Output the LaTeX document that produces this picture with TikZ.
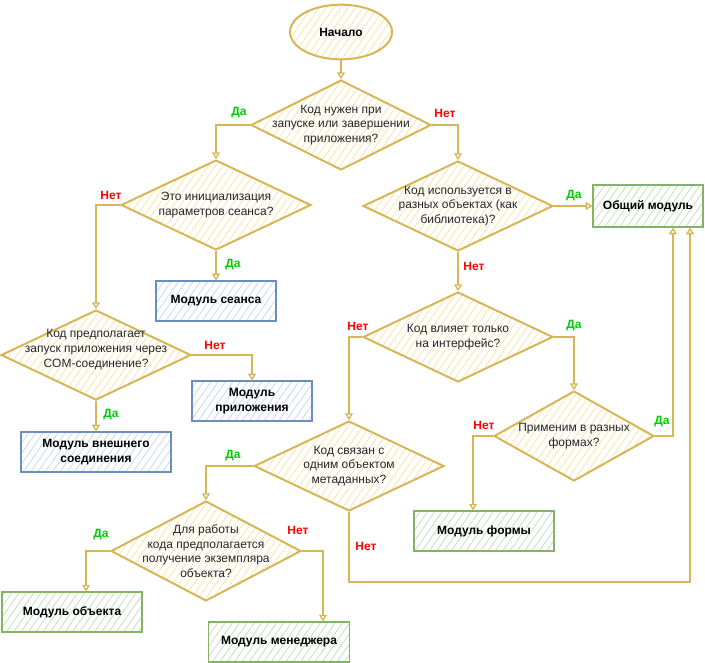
\documentclass[tikz,border=0pt]{standalone}
\usepackage{fontspec}
\setmainfont{Liberation Sans}
\usetikzlibrary{shapes.geometric}
\usetikzlibrary{arrows.meta}
\usetikzlibrary{patterns.meta}
\definecolor{dgold}{HTML}{D6B656}
\definecolor{hgold}{HTML}{F7E4AA}
\definecolor{dblue}{HTML}{6C8EBF}
\definecolor{hblue}{HTML}{C6D8F0}
\definecolor{dgreen}{HTML}{82B366}
\definecolor{hgreen}{HTML}{C4DEC2}
\definecolor{yescol}{HTML}{00CC00}
\definecolor{nocol}{HTML}{FF0000}

\begin{document}
\begin{tikzpicture}[x=0.75pt, y=-0.75pt, font=\fontsize{9}{11}\selectfont]
		\tikzstyle{hatch} = [pattern={Lines[angle=55,distance=4.5pt,line width=0.6pt]}]
		\tikzstyle{decision} = [draw=dgold, line width=1.5pt, diamond, inner sep=0pt, minimum width=142.5pt, minimum height=67.5pt, hatch, pattern color=hgold]
		\tikzstyle{startstop} = [draw=dgold, line width=1.5pt, ellipse, minimum width=76.5pt, minimum height=41pt, hatch, pattern color=hgold, font=\fontsize{9}{11}\selectfont\bfseries]
		\tikzstyle{dtext} = [align=center, text=black!85]
		\tikzstyle{block} = [draw, line width=0.9pt, rectangle, minimum width=90pt, minimum height=30pt, align=center, hatch, font=\fontsize{9}{11}\selectfont\bfseries]
		\tikzstyle{bluebox} = [block, draw=dblue, pattern color=hblue]
		\tikzstyle{greenbox} = [block, draw=dgreen, pattern color=hgreen]
		\tikzstyle{arr} = [-{Triangle[open,length=5pt,width=6pt]}, draw=dgold, line width=1pt]
		\tikzstyle{yeslbl} = [text=yescol, font=\fontsize{9}{11}\selectfont\bfseries]
		\tikzstyle{nolbl} = [text=nocol, font=\fontsize{9}{11}\selectfont\bfseries]
		\useasboundingbox (0,0) rectangle (705,662);

		\node [startstop] (start) at (341,32) {Начало};
		\node [decision, minimum width=135pt] (d1) at (341,125) {};
		\node [dtext] (t1) at (d1) {Код нужен при\\запуске или завершении\\приложения?};
		\node [decision] (d2) at (216,205) {};
		\node [dtext] (t2) at (d2) {Это инициализация\\параметров сеанса?};
		\node [decision] (d3) at (458,206) {};
		\node [dtext] (t3) at (d3) {Код используется в\\разных объектах (как\\библиотека)?};
		\node [decision] (d4) at (96,355) {};
		\node [dtext] (t4) at ([yshift=4pt]d4.center) {Код предполагает\\запуск приложения через\\COM-соединение?};
		\node [decision] (d5) at (458,337) {};
		\node [dtext] (t5) at (d5) {Код влияет только\\на интерфейс?};
		\node [decision] (d6) at (349,466) {};
		\node [dtext] (t6) at (d6) {Код связан с\\одним объектом\\метаданных?};
		\node [decision, minimum width=120pt] (d7) at (574,436) {};
		\node [dtext] (t7) at (d7) {Применим в разных\\формах?};
		\node [decision, minimum height=75pt] (d8) at (206,551) {};
		\node [dtext] (t8) at (d8) {Для работы\\кода предполагается\\получение экземпляра\\объекта?};

		\node [bluebox] (sess) at (216,301) {Модуль сеанса};
		\node [bluebox, minimum width=112.5pt] (ext) at (96,452) {Модуль внешнего\\соединения};
		\node [bluebox] (app) at (252,401) {Модуль\\приложения};
		\node [greenbox, minimum width=82.5pt, minimum height=31.5pt] (common) at (648,206) {Общий модуль};
		\node [greenbox, minimum width=105pt] (form) at (484,531) {Модуль формы};
		\node [greenbox, minimum width=105pt] (obj) at (72,612) {Модуль объекта};
		\node [greenbox, minimum width=105.75pt] (mgr) at (279,642) {Модуль менеджера};

		\draw[arr] (start.south) -- (d1.north);
		\draw[arr] (d1.west) -| (d2.north);
		\draw[arr] (d1.east) -| (d3.north);
		\draw[arr] (d2.south) -- (sess.north);
		\draw[arr] (d2.west) -| (d4.north);
		\draw[arr] (d4.south) -- (ext.north);
		\draw[arr] (d4.east) -| (app.north);
		\draw[arr] (d3.east) -- (common.west);
		\draw[arr] (d3.south) -- (d5.north);
		\draw[arr] (d5.west) -| (d6.north);
		\draw[arr] (d5.east) -| (d7.north);
		\draw[arr] (d7.west) -| ([xshift=-8.25pt]form.north);
		\draw[arr] (d7.east) -| ([xshift=18.75pt]common.south);
		\draw[arr] (d6.south) -- ++(0,70) -| ([xshift=31.5pt]common.south);
		\draw[arr] (d6.west) -| (d8.north);
		\draw[arr] (d8.west) -| ([xshift=10.5pt]obj.north);
		\draw[arr] (d8.east) -| ([xshift=33pt]mgr.north);

		\node [yeslbl] (y1) at (239,113) {Да};
		\node [nolbl] (n1) at (445,113) {Нет};
		\node [nolbl] (n2) at (111,195) {Нет};
		\node [yeslbl] (y2) at (233,265) {Да};
		\node [yeslbl] (y4) at (111,415) {Да};
		\node [nolbl] (n4) at (215,345) {Нет};
		\node [yeslbl] (y3) at (574,196) {Да};
		\node [nolbl] (n3) at (474,266) {Нет};
		\node [nolbl] (n5) at (358,326) {Нет};
		\node [yeslbl] (y5) at (574,326) {Да};
		\node [nolbl] (n7) at (484,425) {Нет};
		\node [yeslbl] (y7) at (662,422) {Да};
		\node [nolbl] (n6) at (366,546) {Нет};
		\node [yeslbl] (y6) at (233,456) {Да};
		\node [yeslbl] (y8) at (101,535) {Да};
		\node [nolbl] (n8) at (298,530) {Нет};
	\end{tikzpicture}
\end{document}
